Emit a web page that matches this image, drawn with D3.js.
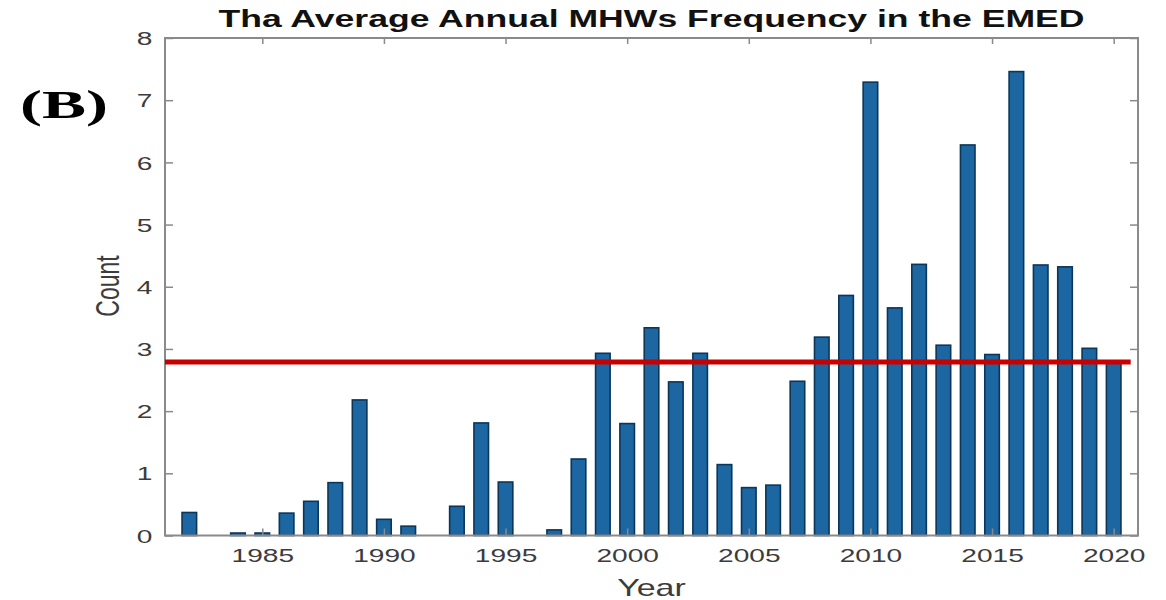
<!DOCTYPE html>
<html><head><meta charset="utf-8">
<script src="https://cdn.jsdelivr.net/npm/d3@7"></script>
<style>body{margin:0;background:#fff}svg{display:block}</style>
</head><body><svg id="c" width="1166" height="600"></svg>
<script>
const years = [1982,1983,1984,1985,1986,1987,1988,1989,1990,1991,1992,1993,1994,1995,1996,1997,1998,1999,2000,2001,2002,2003,2004,2005,2006,2007,2008,2009,2010,2011,2012,2013,2014,2015,2016,2017,2018,2019,2020];
const counts = [0.37,0,0.04,0.04,0.36,0.55,0.85,2.18,0.26,0.15,0,0.47,1.81,0.86,0,0.09,1.23,2.93,1.80,3.34,2.47,2.93,1.14,0.77,0.81,2.48,3.19,3.86,7.29,3.66,4.36,3.06,6.28,2.91,7.46,4.35,4.32,3.01,2.77];
const xTicks = [1985,1990,1995,2000,2005,2010,2015,2020];
const yTicks = [0,1,2,3,4,5,6,7,8];
const meanLine = {value: 2.79, from: 1981, to: 2020.7};
const titleText = "Tha Average Annual MHWs Frequency in the EMED";
const panelLabel = "(B)";

const svg = d3.select("#c");
const L = 165, R = 1138, T = 38, B = 535.5;
const x = d3.scaleLinear().domain([1981, 2021]).range([L, R]);
const y = d3.scaleLinear().domain([0, 8]).range([B, T]);
const SX = 1.48;
const axisGray = "#8a8a8a";
const txtGray = "#3c3c3c";

// bars
const bw = 0.66;
svg.append("g").selectAll("rect").data(years.map((yr,i)=>({yr, v: counts[i]})).filter(d=>d.v>0))
  .join("rect")
  .attr("x", d => x(d.yr - bw/2) + 0.75)
  .attr("width", d => x(d.yr + bw/2) - x(d.yr - bw/2) - 1.5)
  .attr("y", d => y(d.v))
  .attr("height", d => y(0) - y(d.v))
  .attr("fill", "#1c66a2")
  .attr("stroke", "#0c3658")
  .attr("stroke-width", 1.6);

// box frame
svg.append("rect").attr("x", L).attr("y", T).attr("width", R-L).attr("height", B-T)
  .attr("fill", "none").attr("stroke", axisGray).attr("stroke-width", 2);

// axes
function styleAxis(g){
  g.select(".domain").remove();
  g.selectAll(".tick line").attr("stroke", axisGray).attr("stroke-width", 1.5);
  g.selectAll(".tick text").attr("fill", txtGray)
    .style("font-family", "'Liberation Sans', Arial, sans-serif").style("font-size", "19px");
}
const gx = svg.append("g").attr("transform", `translate(0,${B})`)
  .call(d3.axisBottom(x).tickValues(xTicks).tickSize(-7).tickPadding(0).tickFormat(d3.format("d")));
styleAxis(gx);
gx.selectAll(".tick text").attr("y", 27).attr("dy", 0).attr("transform", `scale(${SX},1)`);

const gxt = svg.append("g").attr("transform", `translate(0,${T})`)
  .call(d3.axisTop(x).tickValues(xTicks).tickSize(-6).tickFormat(""));
styleAxis(gxt);

const gy = svg.append("g").attr("transform", `translate(${L},0)`)
  .call(d3.axisLeft(y).tickValues(yTicks).tickSize(-8).tickPadding(0).tickFormat(d3.format("d")));
styleAxis(gy);
gy.selectAll(".tick text").attr("x", -8.5).attr("dy", "0.35em").attr("transform", `scale(${SX},1)`);

const gyr = svg.append("g").attr("transform", `translate(${R},0)`)
  .call(d3.axisRight(y).tickValues(yTicks).tickSize(-8).tickFormat(""));
styleAxis(gyr);

// mean line
svg.append("line")
  .attr("x1", x(meanLine.from)).attr("x2", x(meanLine.to))
  .attr("y1", y(meanLine.value)).attr("y2", y(meanLine.value))
  .attr("stroke", "#c80000").attr("stroke-width", 5);

// title
svg.append("text").attr("x", (L+R)/2 - 433).attr("y", 27)
  .attr("textLength", 866).attr("lengthAdjust", "spacingAndGlyphs")
  .style("font-family", "'Liberation Sans', Arial, sans-serif").style("font-weight", "bold")
  .style("font-size", "23px").attr("fill", "#111").text(titleText);

// axis labels
svg.append("text").attr("transform", `translate(${(L+R)/2 - 0},596) scale(${SX},1)`)
  .attr("text-anchor", "middle")
  .style("font-family", "'Liberation Sans', Arial, sans-serif").style("font-size", "23px")
  .attr("fill", txtGray).text("Year");

svg.append("text").attr("transform", `translate(119,286) scale(${SX},1) rotate(-90)`)
  .attr("text-anchor", "middle")
  .style("font-family", "'Liberation Sans', Arial, sans-serif").style("font-size", "23px")
  .attr("fill", txtGray).text("Count");

// panel label
svg.append("text").attr("x", 20).attr("y", 118)
  .attr("textLength", 88).attr("lengthAdjust", "spacingAndGlyphs")
  .style("font-family", "'Liberation Serif', 'Times New Roman', serif").style("font-weight", "bold")
  .style("font-size", "39px").attr("fill", "#000").text(panelLabel);
</script></body></html>
